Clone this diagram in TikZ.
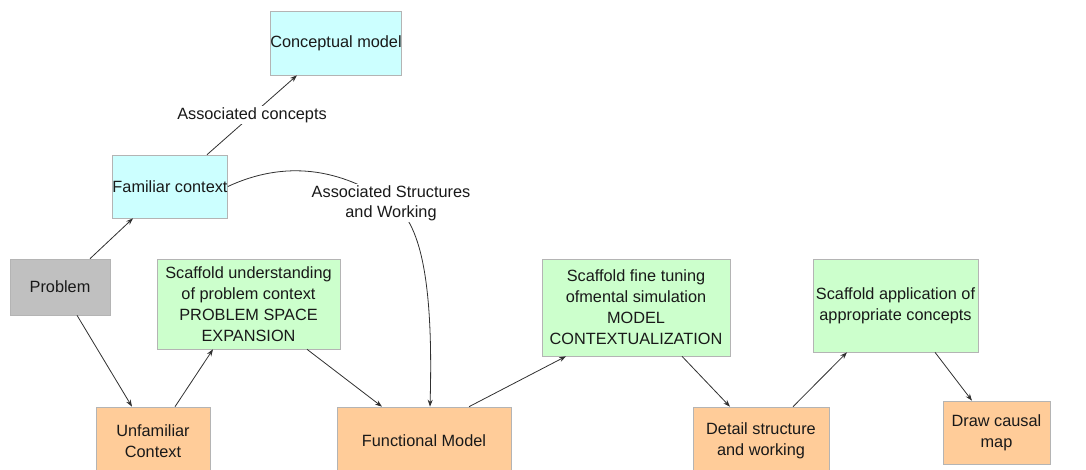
\documentclass[tikz,border=0pt]{standalone}
\usepackage{fontspec}
\setmainfont{Liberation Sans}
\usetikzlibrary{arrows.meta,calc}

\definecolor{cyanfill}{HTML}{CCFFFF}
\definecolor{greenfill}{HTML}{CCFFCC}
\definecolor{orangefill}{HTML}{FFCC99}
\definecolor{grayfill}{HTML}{C0C0C0}
\definecolor{edgegray}{HTML}{B4B4B4}
\definecolor{linkcol}{HTML}{303030}

\tikzset{
  box/.style={rectangle, inner sep=0pt, align=center, draw=edgegray, line width=0.6pt,
              font=\fontsize{16.3}{21}\selectfont, text=black!90},
  concept/.style={box, fill=cyanfill},
  scaffold/.style={box, fill=greenfill},
  stage/.style={box, fill=orangefill},
  start/.style={box, fill=grayfill},
  link/.style={draw=linkcol, line width=0.8pt, -{Stealth[length=7pt,width=5pt]}},
  tag/.style={fill=white, inner sep=1pt, align=center, font=\fontsize{16.3}{20}\selectfont, text=black!90}
}

\begin{document}
\begin{tikzpicture}[x=1pt, y=-1pt]
  \useasboundingbox (0,0) rectangle (1086,469);

  % upper branch: familiar context and conceptual model
  \node[concept, minimum width=130pt, minimum height=64pt] (concm) at (336,43) {Conceptual model};
  \node[concept, minimum width=115pt, minimum height=63pt] (famil) at (170,186.5) {Familiar context};

  % starting point
  \node[start, minimum width=100pt, minimum height=56pt] (prob) at (60,287) {Problem};

  % scaffolding steps
  \node[scaffold, minimum width=183pt, minimum height=90pt] (scpse) at (248.5,304)
    {Scaffold understanding\\of problem context\\PROBLEM SPACE\\EXPANSION};
  \node[scaffold, minimum width=188pt, minimum height=97pt] (scmc) at (636,307.5)
    {Scaffold fine tuning\\ofmental simulation\\MODEL\\CONTEXTUALIZATION};
  \node[scaffold, minimum width=165pt, minimum height=93pt] (scapp) at (895.5,305.5)
    {Scaffold application of\\appropriate concepts};

  % model-building stages
  \node[stage, minimum width=114pt, minimum height=68pt] (unfam) at (153,441) {Unfamiliar\\Context};
  \node[stage, minimum width=174pt, minimum height=68pt] (funcm) at (424,441) {Functional Model};
  \node[stage, minimum width=136pt, minimum height=68pt] (detail) at (761,441) {Detail structure\\and working};
  \node[stage, minimum width=107pt, minimum height=63pt] (causal) at (996.5,432.5) {Draw causal\\map};

  % connectors
  \draw[link] ([xshift=30pt]prob.north) -- ([xshift=-37pt]famil.south);
  \draw[link] ([xshift=37pt]famil.north) -- node[tag, pos=0.5] {Associated concepts} ([xshift=-39pt]concm.south);
  \coordinate (aswmid) at (391,203);
  \draw[link] (famil.east) .. controls (285,160) and (340,168) ..
      node[tag, pos=1] {Associated Structures\\and Working} (aswmid)
      .. controls (425,222) and (433,300) .. ([xshift=6pt]funcm.north);
  \draw[link] ([xshift=17pt]prob.south) -- ([xshift=-21pt]unfam.north);
  \draw[link] ([xshift=22pt]unfam.north) -- ([xshift=-35.5pt]scpse.south);
  \draw[link] ([xshift=58.5pt]scpse.south) -- ([xshift=-42pt]funcm.north);
  \draw[link] ([xshift=45pt]funcm.north) -- ([xshift=-70pt]scmc.south);
  \draw[link] ([xshift=46pt]scmc.south) -- ([xshift=-31pt]detail.north);
  \draw[link] ([xshift=32pt]detail.north) -- ([xshift=-48.5pt]scapp.south);
  \draw[link] ([xshift=39.5pt]scapp.south) -- ([xshift=-24.5pt]causal.north);
\end{tikzpicture}
\end{document}
